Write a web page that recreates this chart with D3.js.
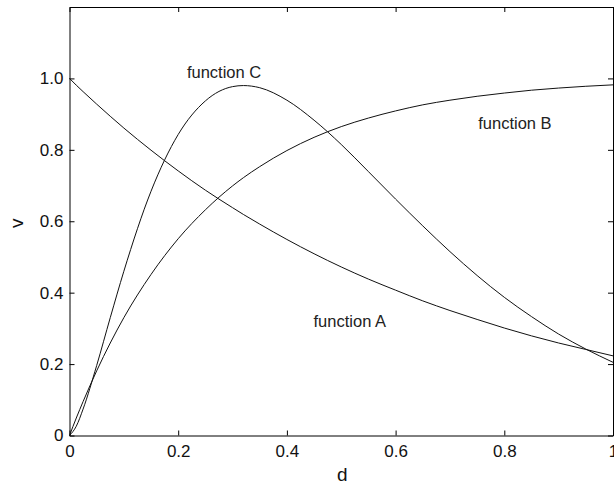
<!DOCTYPE html>
<html>
<head>
<meta charset="utf-8">
<script src="https://cdn.jsdelivr.net/npm/d3@7"></script>
<style>
  html, body { margin: 0; padding: 0; background: #fff; }
  svg { display: block; }
  text { font-family: 'Liberation Sans', Arial, Helvetica, sans-serif; }
</style>
</head>
<body>
<div id="chart"></div>
<script>
// === Three response functions ===

const dValues = [0, 0.0125, 0.025, 0.05, 0.075, 0.1, 0.15, 0.2, 0.25, 0.3, 0.32, 0.35, 0.4, 0.45,
  0.5, 0.55, 0.6, 0.65, 0.7, 0.75, 0.8, 0.85, 0.9, 0.95, 1.0];
const fnA = [1.0, 0.981, 0.963, 0.928, 0.894, 0.861, 0.799, 0.741, 0.687, 0.638, 0.619, 0.592, 0.549, 0.509,
  0.472, 0.438, 0.407, 0.377, 0.350, 0.325, 0.301, 0.279, 0.259, 0.241, 0.223];
const fnB = [0, 0.049, 0.095, 0.181, 0.259, 0.330, 0.451, 0.551, 0.632, 0.699, 0.722, 0.753, 0.798, 0.835,
  0.865, 0.889, 0.909, 0.926, 0.939, 0.950, 0.959, 0.967, 0.973, 0.978, 0.982];
const fnC = [0, 0.026, 0.074, 0.196, 0.330, 0.460, 0.684, 0.843, 0.937, 0.977, 0.980, 0.974, 0.939, 0.883,
  0.815, 0.739, 0.662, 0.587, 0.515, 0.448, 0.387, 0.333, 0.284, 0.242, 0.205];

const xTicks = [0, 0.2, 0.4, 0.6, 0.8, 1];
const xTickLabels = ['0', '0.2', '0.4', '0.6', '0.8', '1'];
const yTicks = [0, 0.2, 0.4, 0.6, 0.8, 1.0];
const yTickLabels = ['0', '0.2', '0.4', '0.6', '0.8', '1.0'];

// annotation anchors (data coords, text baseline-left)
const labelNames = ['function A', 'function B', 'function C'];
const labelD = [0.449, 0.752, 0.216];
const labelV = [0.303, 0.859, 1.0];

const WIDTH = 614;
const HEIGHT = 484;
const MARGIN = { top: 7, right: 1, bottom: 48.5, left: 69.5 };
const FONT_SIZE = 17;

const svg = d3.select('#chart')
  .append('svg')
  .attr('width', WIDTH)
  .attr('height', HEIGHT);

const x = d3.scaleLinear().domain([0, 1]).range([MARGIN.left, WIDTH - MARGIN.right]);
const y = d3.scaleLinear().domain([0, 1.2]).range([HEIGHT - MARGIN.bottom, MARGIN.top]);

function styleAxis(g) {
  g.selectAll('.domain').attr('stroke', '#000').attr('stroke-width', 1);
  g.selectAll('.tick line').attr('stroke', '#000').attr('stroke-width', 1);
  g.selectAll('.tick text')
    .attr('fill', '#111')
    .attr('font-size', FONT_SIZE + 'px')
    .attr('font-family', "'Liberation Sans', Arial, sans-serif");
}

// Bottom axis (ticks point inward, MATLAB style)
svg.append('g')
  .attr('transform', `translate(0,${y(0)})`)
  .call(d3.axisBottom(x).tickValues(xTicks)
    .tickFormat((d, i) => xTickLabels[i])
    .tickSizeInner(-5).tickSizeOuter(0).tickPadding(9))
  .call(styleAxis);

// Left axis
svg.append('g')
  .attr('transform', `translate(${x(0)},0)`)
  .call(d3.axisLeft(y).tickValues(yTicks)
    .tickFormat((d, i) => yTickLabels[i])
    .tickSizeInner(-5).tickSizeOuter(0).tickPadding(6))
  .call(styleAxis);

// Top and right frame with mirrored ticks, no labels
svg.append('g')
  .attr('transform', `translate(0,${y(1.2)})`)
  .call(d3.axisTop(x).tickValues(xTicks).tickFormat('')
    .tickSizeInner(-5).tickSizeOuter(0))
  .call(styleAxis);

svg.append('g')
  .attr('transform', `translate(${x(1)},0)`)
  .call(d3.axisRight(y).tickValues(yTicks).tickFormat('')
    .tickSizeInner(-5).tickSizeOuter(0))
  .call(styleAxis);

// Curves
const line = d3.line()
  .x((d, i) => x(dValues[i]))
  .y(d => y(d))
  .curve(d3.curveMonotoneX);

const curveGroup = svg.append('g').attr('class', 'curves');
for (const series of [fnA, fnB, fnC]) {
  curveGroup.append('path')
    .datum(series)
    .attr('d', line)
    .attr('fill', 'none')
    .attr('stroke', '#111')
    .attr('stroke-width', 1);
}

// Function annotations
for (let i = 0; i < labelNames.length; i++) {
  svg.append('text')
    .attr('x', x(labelD[i]))
    .attr('y', y(labelV[i]))
    .attr('fill', '#222')
    .attr('font-size', '16.5px')
    .text(labelNames[i]);
}

// Axis labels
svg.append('text')
  .attr('x', (x(0) + x(1)) / 2 + 1)
  .attr('y', 481)
  .attr('text-anchor', 'middle')
  .attr('fill', '#111')
  .attr('font-size', '19px')
  .text('d');

svg.append('text')
  .attr('transform', `translate(23,${(y(0) + y(1.2)) / 2 + 2}) rotate(-90)`)
  .attr('text-anchor', 'middle')
  .attr('fill', '#111')
  .attr('font-size', '19px')
  .text('v');
</script>
</body>
</html>
